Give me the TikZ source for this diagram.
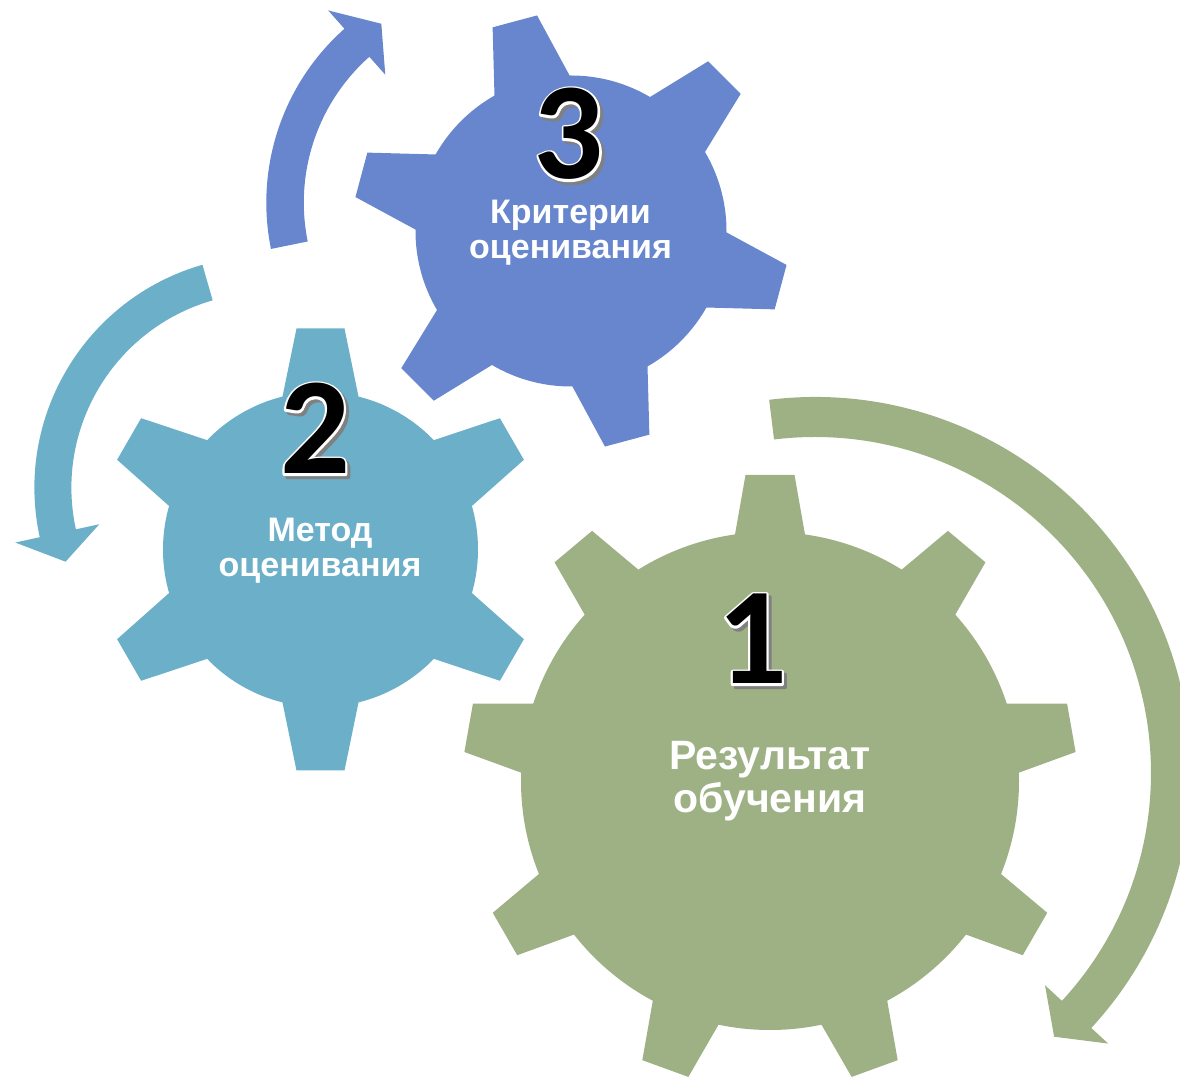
\documentclass[tikz,border=0pt]{standalone}
\usepackage{fontspec}
\setmainfont{Liberation Sans}
\newfontfamily\numfont{Carlito}
\definecolor{gearA}{RGB}{158,177,132}
\definecolor{gearB}{RGB}{107,175,200}
\definecolor{gearC}{RGB}{103,134,205}
\definecolor{numgray}{RGB}{128,128,128}
% stroked digits for the white rim and the grey shadow
\newcommand\rimdigit[1]{\special{pdf:literal direct 1 j 2.2 w 1 1 1 RG 1 Tr}#1\special{pdf:literal direct 0 Tr}}
\newcommand\shadowdigit[1]{\special{pdf:literal direct 1 j 2.2 w 0.5 0.5 0.5 RG 2 Tr}#1\special{pdf:literal direct 0 Tr}}

\begin{document}
\begin{tikzpicture}[x=0.5pt,y=0.5pt,
    gearlabel/.style={
% The text:
text=white, font=\bfseries\fontsize{17}{17.5}\selectfont,
% The alignment:
align=center, inner sep=0pt,
},
    biglabel/.style={
gearlabel, font=\bfseries\fontsize{20.5}{21.5}\selectfont,
},
    digit/.style={
% The font:
font=\numfont\bfseries\fontsize{69}{69}\selectfont,
% The placement:
inner sep=0pt, anchor=base, text depth=0pt,
},
    digitshadow/.style={digit, text=numgray, xshift=1.5pt, yshift=-1.5pt},
]
  \clip (0,0) rectangle (1180,1083);

  % gear 1
  \fill[gearA] (770,302) circle[radius=249];
  \foreach \a in {90,130,...,410}
    \fill[gearA, shift={(770,302)}, rotate=\a] (225,-38.8) -- (306,-24.5) -- (306,24.5) -- (225,38.8) -- cycle;
  % gear 2
  \fill[gearB] (320.5,533.5) circle[radius=157.5];
  \foreach \a in {90,150,...,390}
    \fill[gearB, shift={(320.5,533.5)}, rotate=\a] (135,-41.7) -- (221,-24) -- (221,24) -- (135,41.7) -- cycle;
  % gear 3
  \fill[gearC] (571,852) circle[radius=155.5];
  \foreach \a in {105,165,...,405}
    \fill[gearC, shift={(571,852)}, rotate=\a] (135,-42.6) -- (217,-23) -- (217,23) -- (135,42.6) -- cycle;

  % arrows
  \fill[gearA, shift={(815,310)}] (97:376) arc[start angle=97, end angle=-42.7, radius=376]
    -- (-42.7:399) -- (-47.8:356) -- (-42.7:313) -- (-42.7:336)
    arc[start angle=-42.7, end angle=97, radius=336] -- cycle;
  \fill[gearB, shift={(266.4,595.2)}] (106:232) arc[start angle=106, end angle=192.3, radius=232]
    -- (192.3:257) -- (200.2:214) -- (192.3:171) -- (192.3:195)
    arc[start angle=192.3, end angle=106, radius=195] -- cycle;
  \fill[gearC, shift={(498.8,880.4)}] (191.5:232.5) arc[start angle=191.5, end angle=131.6, radius=232.5]
    -- (131.6:257) -- (123.3:214) -- (131.6:171) -- (131.6:195)
    arc[start angle=131.6, end angle=191.5, radius=195] -- cycle;

  % numbers
  \node[digitshadow] (n1s) at (752,399) {\shadowdigit{1}};
  \node[digit]       (n1r) at (752,399) {\rimdigit{1}};
  \node[digit]       (n1)  at (752,399) {1};
  \node[digitshadow] (n2s) at (315,609) {\shadowdigit{2}};
  \node[digit]       (n2r) at (315,609) {\rimdigit{2}};
  \node[digit]       (n2)  at (315,609) {2};
  \node[digitshadow] (n3s) at (568.5,904) {\shadowdigit{3}};
  \node[digit]       (n3r) at (568.5,904) {\rimdigit{3}};
  \node[digit]       (n3)  at (568.5,904) {3};

  % texts
  \node[biglabel]  (t1) at (770,302)   {Результат\\обучения};
  \node[gearlabel] (t2) at (320,532.5) {Метод\\оценивания};
  \node[gearlabel] (t3) at (570.5,850.5) {Критерии\\оценивания};

\end{tikzpicture}
\end{document}
